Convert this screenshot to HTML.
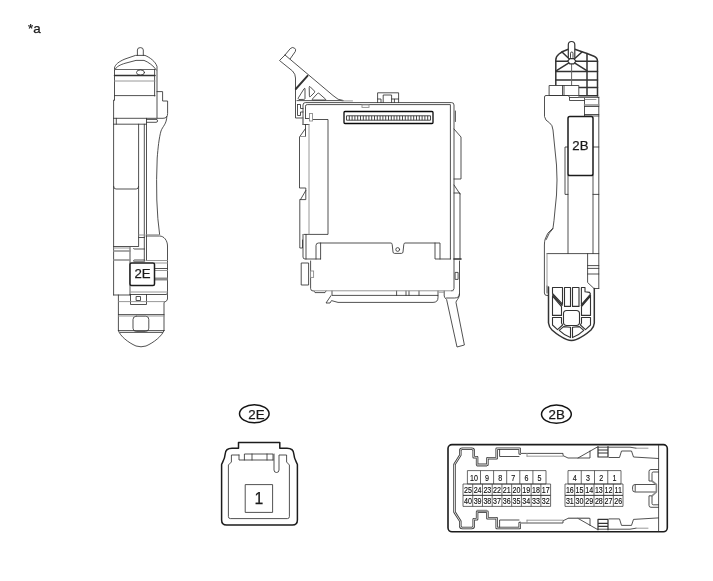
<!DOCTYPE html>
<html><head><meta charset="utf-8">
<style>
html,body{margin:0;padding:0;background:#fff;}
svg{display:block;will-change:transform;}
text{font-family:"Liberation Sans",sans-serif;fill:#1a1a1a;}
.d{stroke:#333;stroke-width:.85;fill:none;stroke-linejoin:round;stroke-linecap:round}
.g{stroke:#8c8c8c;stroke-width:.9;fill:none;stroke-linecap:round}
.k{stroke:#1c1c1c;stroke-width:1.5;fill:#fff;stroke-linejoin:round}
.r{stroke:#333;stroke-width:1.5;fill:none;stroke-linejoin:round;stroke-linecap:round}
.lb{stroke:#1a1a1a;stroke-width:.25}
.pn{font-size:8.9px;text-anchor:middle;fill:#111;stroke:#111;stroke-width:.15}
</style></head><body>
<svg width="713" height="581" viewBox="0 0 713 581">
<rect width="713" height="581" fill="#fff"/>
<text class="lb" x="28" y="33" font-size="13.4">*a</text>

<!-- LEFT -->
<g id="left">
<g class="d">
<path d="M137.4 55.4V50Q137.4 47.6 140.3 47.6Q143.3 47.6 143.3 50V55.4"/>
<path d="M114.5 100V68C115 64.5 119 61.5 125 59L135.5 55.4H145C150 57.5 155.5 61.5 157 66.5V118"/>
<path d="M114.8 70C116 66.5 121 64.5 125 63.3L136 60.4H144C148 61.8 154 66 156.3 70"/>
<path d="M114.5 69.5H155" stroke="#666" stroke-width="1.1"/><path d="M114.5 75.6H155" stroke-width="1.5"/><path d="M114.5 95.6H155M154.6 69.5V96"/>
<ellipse cx="140.5" cy="72.5" rx="4" ry="2.6"/>
<path d="M157 91.6H162.6V101H167.6V113.5Q167.6 118.3 163 118.3H113.5M166.8 116.5C166.8 124 162.5 126.5 161 131C159 138 158 148 157.2 158Q156.2 180 156.8 200Q157.5 220 159.6 234.5"/>
<path d="M146 236H159.5C164 236 167.5 240.5 167.5 246V293"/>
<path d="M114.5 100H113.6V295"/>
<path d="M146.5 119.4H156Q157.6 119.4 157.6 120.9Q157.6 122.3 156 122.3H146.5M116.3 118.3V124.2"/>
<path d="M113.6 124.2H146.5M138.6 124.2V246.5M113.6 186.5Q113.6 189 116 189H136.2Q138.6 189 138.6 186.5M113.6 246.5H138"/>
<path d="M144.3 124.2V260.5M146.5 118.3V260.5"/>
<path d="M138.8 237.5H144.5M133.5 248.5Q133.5 249 134.5 249H144.5M130 247.5V295M133.5 260.8Q133.5 260 134.5 260H144.5"/>
<path d="M154.5 268.5H167.5M130 294.5H166Q167.5 294.5 167.5 293M113.6 295H130M118.4 295V330.6M167.5 294.5V299Q167.5 301 164 302.4V330.6"/>
<path d="M130.5 294.5V304.5H146.5V294.5"/>
<rect x="136.5" y="296.5" width="4" height="4"/>
<path d="M118.4 314.6H164M118.4 330.6H164M120 332.4H162.6"/>
<rect x="133" y="316.2" width="15.8" height="15.2" rx="3.2"/>
<path d="M118.4 330.6C120 336 128 342.5 136 346Q141 347.6 146 346C154 342.5 162 336 164 330.6"/>
</g>
<g class="g">
<path d="M114.5 81H155M138.8 235H144.5M146 234.8H159M113.6 248H130M146 260.5H167.5M154.5 270.5H167.5M154.5 263H167.5M118.6 301.6H165M118.4 316H164M131 292H167.5"/>
<path d="M113.6 251H130M113.6 260H130M134 261.6H144.5" stroke-width="1.4"/>
<path d="M154.5 279H167.5" stroke-width="3" stroke-linecap="butt"/>
</g>
<rect class="k" x="130" y="263" width="24.5" height="22.4" rx="1.5"/>
<text class="lb" x="142.5" y="277.8" font-size="13.2" text-anchor="middle">2E</text>
</g>

<!-- CENTER -->
<g id="center">
<g class="d">
<path d="M285 55L290.2 48.7Q292.2 46.6 294.5 48.1Q296.4 49.6 295.3 51.5L290.2 58.8"/>
<path d="M285 55L279.5 60.5L292.5 71Q295.5 74 295.5 78V118H303"/>
<path d="M285 55L333 95.5Q338 100.5 343 100.5"/>
<path d="M295.8 89L307.5 75.8" stroke-width="1.9"/>
<path d="M298.6 99.3Q297.8 98.8 298.4 97.8L304 88.8Q305 87.6 305 89V98.6Q305 99.4 304.2 99.4Z"/>
<path d="M309.2 87.2Q309.2 85.8 310.2 86.8L314.4 91Q315 91.8 314.4 92.6L310.4 96.6Q309.4 97.4 309.4 96.2Z"/>
<path d="M312.6 100Q311.6 100 312.4 99L317.6 93.4Q318.2 92.8 319 93.4L325.6 99.2Q326.4 100 325.4 100Z"/>
<path d="M297 100.6H343"/>
<path d="M297.5 104.5H300.5V108.5H303M297.5 104.5V115.5H300.5V112H303"/>
<path d="M303 124.5V105Q303 102.6 305.4 102.6H451.5Q454 102.6 454 105V288.5Q454 290.8 451.5 290.8"/>
<path d="M305.5 118.5V106.2Q305.5 104.6 307.2 104.6H450.4V259"/>
<path d="M305.5 118.5H309.5M312.5 119.5H328V234.4H304"/>
<path d="M303 124.5H309M305.5 124.5V136.5M305.5 128.5L299.5 137V188H305.8V199.6H300.5M305.8 190.5L300.5 199.6M299.8 199.6V248H302.5V240"/>
<path d="M303 234.4V257Q303 259 305 259H320.6M306 234.4V259"/>
<path d="M377.6 102.6V92.8H398.6V102.6M383.2 102.6V95H391.6V102.6M377.6 99H381V102.6M398.6 99H394.4V102.6M391.6 99H394.4"/>
<path d="M455.4 111V121.5M454 129L461 137V179H454M454 185L460 194M454 193H460V259"/>
<path d="M316 259V245.5Q316 243 318.5 243H391Q392 243 392.2 244.5L393 252Q393.2 253.4 394.5 253.4H401.5Q402.8 253.4 403 252L403.8 244.5Q404 243 405 243H440V259M320.6 243V259M435 243V259H450.4"/>
<circle cx="397.7" cy="249.5" r="1.9"/>
<path d="M454 259H461" stroke-width="1.6"/>
<path d="M301.6 263H308.6V285H301.6ZM310.6 261V288.5Q310.6 291 313 291"/>
<path d="M332 291V295.4H438V291M396.6 291V295.4M406 291V295.4M409 291V295.4M419 291V295.4"/>
<path d="M314 291L315 292.6H325L326 291"/>
<path d="M331 295.6L326 303H330L331.5 300.6L338 302.4H433Q438 302.4 438 297.5V295.4"/>
<path d="M459.5 261V293.5Q459.5 298 454.5 298H446.5M444.2 291V296Q444.6 298 446.6 299.5L457 347L464.4 345L456 302.5Q456 301 457.5 299.5Q459.5 297.5 459.5 293.5"/>
<rect x="455.5" y="272.4" width="2.6" height="7"/>
</g>
<g class="g">
<path d="M313 290.8H453M342 100.9H352.5M303 124.5V118M309 124.5V234M299.5 136.5H305.5M439 292.2H444"/>
<rect x="362" y="104.8" width="7" height="2.6"/>
<rect x="309.5" y="113.5" width="3" height="7.5" fill="#fff"/>
<rect x="310.6" y="271" width="3" height="6.4" fill="#fff"/>
</g>
<rect x="344" y="111.5" width="89" height="12" rx="1" fill="#fff" stroke="#0a0a0a" stroke-width="1.3"/>
<path d="M346.5 115.8H430.5V120.2H346.5ZM349.3 115.8V120.2M352.1 115.8V120.2M354.9 115.8V120.2M357.7 115.8V120.2M360.5 115.8V120.2M363.3 115.8V120.2M366.1 115.8V120.2M368.9 115.8V120.2M371.7 115.8V120.2M374.5 115.8V120.2M377.3 115.8V120.2M380.1 115.8V120.2M382.9 115.8V120.2M385.7 115.8V120.2M388.5 115.8V120.2M391.3 115.8V120.2M394.1 115.8V120.2M396.9 115.8V120.2M399.7 115.8V120.2M402.5 115.8V120.2M405.3 115.8V120.2M408.1 115.8V120.2M410.9 115.8V120.2M413.7 115.8V120.2M416.5 115.8V120.2M419.3 115.8V120.2M422.1 115.8V120.2M424.9 115.8V120.2M427.7 115.8V120.2" fill="none" stroke="#333" stroke-width=".9"/>
</g>

<!-- RIGHT -->
<g id="right">
<g class="r">
<path d="M555.8 85.5V60Q555.8 56.5 559 54Q563 51 568.3 49.3M574.8 49.2L587 53.5L594 56.2Q597.5 57.6 597.5 61V96"/>
<path d="M555.8 61.2H597.5M555.8 71.5H597.5M555.8 80H597.5M578.8 87.5H597.5M578.8 95.8H597.5M587 53.5V95.8"/>
<path d="M571.7 61.2L556.5 70.6M571.7 61.2L562 52M571.7 61.2L582 52M571.7 61.2L586.8 70.6"/>
<path d="M571.6 63V85.5" stroke-width="1" stroke="#666"/>
<path d="M567.7 61.2L569.8 58.6H573.8L575.9 61.2L573.8 63.9H569.8Z" fill="#fff" stroke-width="1.2"/>
<path d="M568.3 57.5V44.7Q568.3 41.5 571.55 41.5Q574.8 41.5 574.8 44.7V57.5" fill="#fff" stroke-width="1.2"/>
<path d="M570.5 57.5V53.2Q570.5 52 571.75 52Q573 52 573 53.2V57.5" stroke-width=".9"/>
</g>
<g class="d">
<rect x="549.5" y="85.5" width="29.3" height="10" fill="#fff"/>
<path d="M562.5 85.5V95.5M564 85.5V95.5"/>
<path d="M568 95.5H546Q544.5 95.5 544.5 97V116.5Q545 120.5 549.5 122.8Q552.6 125 553 130Q554 140 555 150Q557 165 557 180Q557 195 555 210Q554 222 553 228Q546.5 233 545.2 239Q544.4 241.5 544.4 245V293Q544.4 295.5 547 295.5H548.5"/>
<path d="M553 228.6Q549 232 546.2 239.5"/>
<path d="M568 95.5L569.5 97V100.5H584.5M569.5 97.5H598.8M584.5 98V116.5M598.8 97V288.5M584.5 106.5H598.8M584.5 114.5H598.8M584.5 116H598.8"/>
<path d="M568 175V253.6M593 175V253.6M568 147H565V194.4H568M593 147H598.8M593 194.4H598.8"/>
<path d="M547 253.6H598.8M587.6 253.6V282.5L594 288.5H598.8M587.6 265.6H598.8M587.6 268.4H598.8M587.6 274H598.8"/>
<path d="M547 286V293"/>
</g>
<g class="g">
<path d="M585 99.5H596M547 253.6V286M579 97H597"/>
<path d="M584.5 105H598.8" stroke-width="1.6"/>
</g>
<rect class="k" x="568" y="116.6" width="25" height="59" rx="1.8"/>
<text class="lb" x="580.4" y="150.4" font-size="13.2" text-anchor="middle">2B</text>
<g class="r" stroke-width="1.3">
<path d="M548.5 287V323Q549 327 552 330Q560 337 567 339.6Q571.5 341.2 576 339.6Q583 337 591 330Q594 327 594.3 323V288.5" stroke-width="1.5"/>
<g id="cageL" stroke-width="1.1">
<path d="M552.5 287.5H562.5V304.2L552.5 293.4Z"/>
<path d="M564.5 287.5H570.5V306.4H564.5Z"/>
<path d="M552.5 296.2L561.5 306.6V315.4H552.5Z"/>
<path d="M552.5 317.5H561.5V323L562.6 325L557.5 329.6L552.5 325Z"/>
<path d="M559.2 330.4L563.6 326.6L570.5 327.2V337.6Q564.5 335.5 559.2 330.4Z"/>
</g>
<g stroke-width="1.1">
<path d="M572.5 287.5H579V306.4H572.5Z"/>
<path d="M581.4 287.5H585V291.8L589.5 292.4L590.5 294L581.4 304.6Z"/>
<path d="M590.5 296.2L581.5 306.6V315.4H590.5Z"/>
<path d="M590.5 317.5H581.5V323L580.4 325L585.5 329.6L590.5 325Z"/>
<path d="M583.8 330.4L579.4 326.6L572.5 327.2V337.6Q578.5 335.5 583.8 330.4Z"/>
<rect x="563.5" y="310.5" width="16" height="15" rx="3.2"/>
<path d="M552.7 294.9L562 305.3M590.4 295.3L581.4 305.5" stroke-width="1.5"/>
</g>
</g>
</g>

<!-- 2E connector -->
<g id="c2e">
<ellipse cx="254.3" cy="413.8" rx="14.8" ry="9" fill="none" stroke="#151515" stroke-width="1.5"/>
<text class="lb" x="256.5" y="419.3" font-size="13.3" text-anchor="middle">2E</text>
<path d="M238.5 448.3V442.5H279.8V448.3H287C291 448.3 293.6 450.5 293.8 454C294 458 295 459.5 297.4 464.5V520Q297.4 525 292.4 525H226.6Q221.6 525 221.6 520V464.5C224 459.5 225 458 225.2 454C225.4 450.5 228 448.3 232 448.3Z" fill="none" stroke="#1c1c1c" stroke-width="1.5" stroke-linejoin="round"/>
<g class="d" stroke="#555">
<path d="M239 455H231.4V462L228.4 465V516.6Q228.4 518.6 230.4 518.6H287.4Q289.4 518.6 289.4 516.6V465L286.6 462V455H279V470Q279 472.5 276.5 472.5Q274 472.5 274 470V454"/>
<path d="M239 455V460H273M244.4 460V454H273V460M252 454V460M267 454V460"/>
<rect x="245.6" y="484.6" width="27" height="27.8"/>
</g>
<text class="lb" x="258.9" y="504.2" font-size="15.8" text-anchor="middle">1</text>
</g>
<!-- 2B connector -->
<g id="c2b">
<style>.c{stroke:#3a3a3a;stroke-width:.75;fill:none}</style>
<ellipse cx="556.4" cy="414.2" rx="14.9" ry="9.1" fill="none" stroke="#151515" stroke-width="1.5"/>
<text class="lb" x="556.7" y="419.4" font-size="13.3" text-anchor="middle">2B</text>
<rect x="448" y="444.6" width="219.3" height="87.2" rx="4" fill="none" stroke="#1c1c1c" stroke-width="1.6"/>
<path d="M521 453.4H519.7V448.7H496.7V458.2H487.4V464.7H477.1V457.2H473.7V450.7Q473.7 448.7 471.7 448.7H462.3Q460.3 448.7 460.3 450.7V455.2L454.5 464.4V512L460.3 521.2V526Q460.3 528 462.3 528H471.7Q473.7 528 473.7 526V519.2H477.1V511.7H487.4V518.2H496.7V528H519.7V523H521" fill="none" stroke="#3a3a3a" stroke-width="2.5" stroke-linejoin="round"/>
<path d="M521 453.4H519.7V448.7H496.7V458.2H487.4V464.7H477.1V457.2H473.7V450.7Q473.7 448.7 471.7 448.7H462.3Q460.3 448.7 460.3 450.7V455.2L454.5 464.4V512L460.3 521.2V526Q460.3 528 462.3 528H471.7Q473.7 528 473.7 526V519.2H477.1V511.7H487.4V518.2H496.7V528H519.7V523H521" fill="none" stroke="#fff" stroke-width=".8" stroke-linejoin="round"/>
<g class="d" stroke="#444">
<path d="M499.6 449.4V456.5H519M499.6 527.2V520H519"/>
<path d="M521 453.4H563V455.6L568 458H590V451M578 458L597 447.2H630L636 448.2"/>
<path d="M521 523H563V520.8L568 518.4H590V525.4M578 518.4L597 529.2H630L636 528.2"/>
<path d="M598 446.6V457H608V446.6M598 450H608M598 453H608" stroke-width="1.2"/>
<path d="M598 529.8V519.4H608V529.8M598 526.4H608M598 523.4H608" stroke-width="1.2"/>
<path d="M609 457.5H619.5L621.5 451H631.5L633.5 457L658.5 458.5"/>
<path d="M609 518.9H619.5L621.5 525.4H631.5L633.5 519.4L658.5 517.9"/>
<path d="M658.6 445.4V531"/>
<path d="M658.5 469.5H651Q649 469.5 649 471.5V481H652M658.5 472H653.2Q652 472 652 473.4V480.4"/>
<path d="M658.5 507.3H651Q649 507.3 649 505.3V495.8H652M658.5 504.8H653.2Q652 504.8 652 503.4V496.4"/>
<path d="M656 484.5H635Q632.6 484.5 632.6 487V489.6Q632.6 492 635 492H656M635.2 485.4V491.2"/>
<path d="M652 481L656.4 484.5V492L652 495.8" stroke="#888" stroke-width="1.6"/>
</g>
<g class="g">
<path d="M527 456.2H563M527 453.4V456.2M527 520.2H563M527 523V520.2M636 448.2H648M636 528.2H648M568.5 518H589"/>
<path d="M476.8 465.6H487M476.8 510.8H487" stroke-width="2.2" stroke-linecap="butt"/>
</g>
<path class="c" d="M467.4 470.6H546M467.4 484H546M467.40 470.6V484M480.50 470.6V484M493.60 470.6V484M506.70 470.6V484M519.80 470.6V484M532.90 470.6V484M546.00 470.6V484"/>
<text class="pn" transform="translate(473.95 480.5) scale(0.8 1)">10</text>
<text class="pn" transform="translate(487.05 480.5) scale(0.8 1)">9</text>
<text class="pn" transform="translate(500.15 480.5) scale(0.8 1)">8</text>
<text class="pn" transform="translate(513.25 480.5) scale(0.8 1)">7</text>
<text class="pn" transform="translate(526.35 480.5) scale(0.8 1)">6</text>
<text class="pn" transform="translate(539.45 480.5) scale(0.8 1)">5</text>
<path class="c" d="M463 484H550.6M463 495.4H550.6M463.00 484V495.4M472.73 484V495.4M482.47 484V495.4M492.20 484V495.4M501.93 484V495.4M511.67 484V495.4M521.40 484V495.4M531.13 484V495.4M540.87 484V495.4M550.60 484V495.4"/>
<text class="pn" transform="translate(467.87 492.9) scale(0.8 1)">25</text>
<text class="pn" transform="translate(477.60 492.9) scale(0.8 1)">24</text>
<text class="pn" transform="translate(487.33 492.9) scale(0.8 1)">23</text>
<text class="pn" transform="translate(497.07 492.9) scale(0.8 1)">22</text>
<text class="pn" transform="translate(506.80 492.9) scale(0.8 1)">21</text>
<text class="pn" transform="translate(516.53 492.9) scale(0.8 1)">20</text>
<text class="pn" transform="translate(526.27 492.9) scale(0.8 1)">19</text>
<text class="pn" transform="translate(536.00 492.9) scale(0.8 1)">18</text>
<text class="pn" transform="translate(545.73 492.9) scale(0.8 1)">17</text>
<path class="c" d="M463 495.4H550.6M463 506.4H550.6M463.00 495.4V506.4M472.73 495.4V506.4M482.47 495.4V506.4M492.20 495.4V506.4M501.93 495.4V506.4M511.67 495.4V506.4M521.40 495.4V506.4M531.13 495.4V506.4M540.87 495.4V506.4M550.60 495.4V506.4"/>
<text class="pn" transform="translate(467.87 503.9) scale(0.8 1)">40</text>
<text class="pn" transform="translate(477.60 503.9) scale(0.8 1)">39</text>
<text class="pn" transform="translate(487.33 503.9) scale(0.8 1)">38</text>
<text class="pn" transform="translate(497.07 503.9) scale(0.8 1)">37</text>
<text class="pn" transform="translate(506.80 503.9) scale(0.8 1)">36</text>
<text class="pn" transform="translate(516.53 503.9) scale(0.8 1)">35</text>
<text class="pn" transform="translate(526.27 503.9) scale(0.8 1)">34</text>
<text class="pn" transform="translate(536.00 503.9) scale(0.8 1)">33</text>
<text class="pn" transform="translate(545.73 503.9) scale(0.8 1)">32</text>
<path class="c" d="M568 470.6H621M568 484H621M568.00 470.6V484M581.25 470.6V484M594.50 470.6V484M607.75 470.6V484M621.00 470.6V484"/>
<text class="pn" transform="translate(574.62 480.5) scale(0.8 1)">4</text>
<text class="pn" transform="translate(587.88 480.5) scale(0.8 1)">3</text>
<text class="pn" transform="translate(601.12 480.5) scale(0.8 1)">2</text>
<text class="pn" transform="translate(614.38 480.5) scale(0.8 1)">1</text>
<path class="c" d="M565 484H623M565 495.4H623M565.00 484V495.4M574.67 484V495.4M584.33 484V495.4M594.00 484V495.4M603.67 484V495.4M613.33 484V495.4M623.00 484V495.4"/>
<text class="pn" transform="translate(569.83 492.9) scale(0.8 1)">16</text>
<text class="pn" transform="translate(579.50 492.9) scale(0.8 1)">15</text>
<text class="pn" transform="translate(589.17 492.9) scale(0.8 1)">14</text>
<text class="pn" transform="translate(598.83 492.9) scale(0.8 1)">13</text>
<text class="pn" transform="translate(608.50 492.9) scale(0.8 1)">12</text>
<text class="pn" transform="translate(618.17 492.9) scale(0.8 1)">11</text>
<path class="c" d="M565 495.4H623M565 506.4H623M565.00 495.4V506.4M574.67 495.4V506.4M584.33 495.4V506.4M594.00 495.4V506.4M603.67 495.4V506.4M613.33 495.4V506.4M623.00 495.4V506.4"/>
<text class="pn" transform="translate(569.83 503.9) scale(0.8 1)">31</text>
<text class="pn" transform="translate(579.50 503.9) scale(0.8 1)">30</text>
<text class="pn" transform="translate(589.17 503.9) scale(0.8 1)">29</text>
<text class="pn" transform="translate(598.83 503.9) scale(0.8 1)">28</text>
<text class="pn" transform="translate(608.50 503.9) scale(0.8 1)">27</text>
<text class="pn" transform="translate(618.17 503.9) scale(0.8 1)">26</text>
</g>
</svg>
</body></html>
